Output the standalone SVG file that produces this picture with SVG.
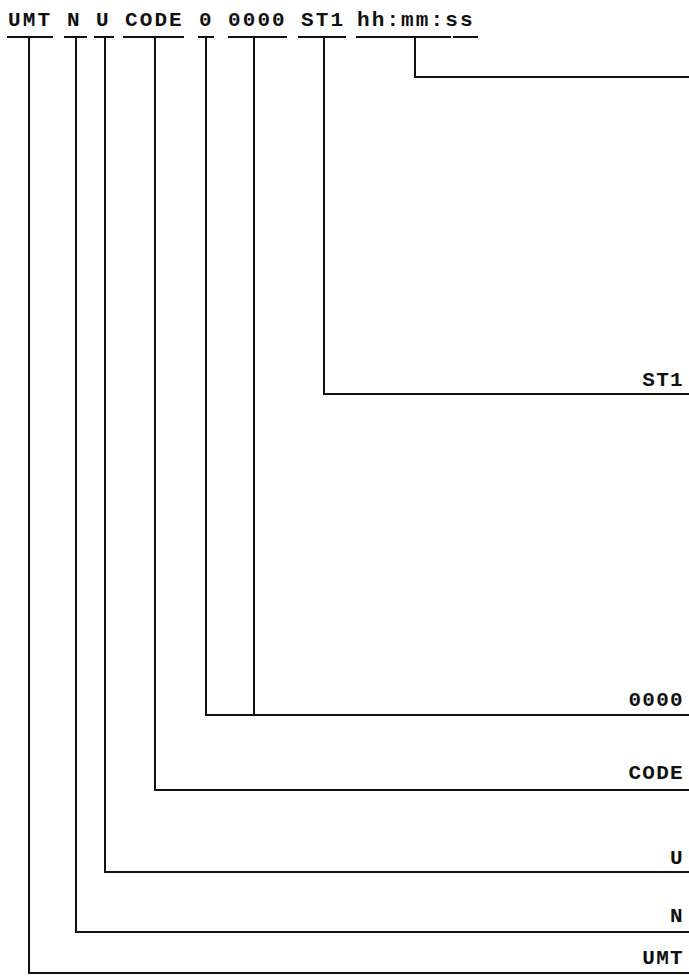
<svg xmlns="http://www.w3.org/2000/svg" width="689" height="979" viewBox="0 0 689 979">
<style>
.t{font-family:"Liberation Mono","DejaVu Sans Mono",monospace;font-weight:bold;font-size:21px;fill:#111;letter-spacing:2.1px}
.r{font-family:"Liberation Mono","DejaVu Sans Mono",monospace;font-weight:bold;font-size:21px;fill:#111;letter-spacing:1.3px;text-anchor:end}
.l{stroke:#111;stroke-width:2;fill:none;stroke-linecap:square}
</style>
<rect width="689" height="979" fill="#fff"/>
<g id="UMT"><text class="t" x="8" y="26">UMT</text><line class="l" x1="8" y1="37" x2="52" y2="37"/><text class="r" x="684" y="964">UMT</text></g>
<g id="N"><text class="t" x="67" y="26">N</text><line class="l" x1="65" y1="37" x2="86" y2="37"/><text class="r" x="684" y="922">N</text></g>
<g id="U"><text class="t" x="96" y="26">U</text><line class="l" x1="95" y1="37" x2="113" y2="37"/><text class="r" x="684" y="864">U</text></g>
<g id="CODE"><text class="t" x="125" y="26">CODE</text><line class="l" x1="124" y1="37" x2="183" y2="37"/><text class="r" x="684" y="779">CODE</text></g>
<g id="ZERO"><text class="t" x="199" y="26">0</text><line class="l" x1="199" y1="37" x2="213" y2="37"/></g>
<g id="ZEROS"><text class="t" x="228" y="26">0000</text><line class="l" x1="229" y1="37" x2="286" y2="37"/><text class="r" x="684" y="706">0000</text></g>
<g id="ST1"><text class="t" x="301" y="26">ST1</text><line class="l" x1="299" y1="37" x2="345" y2="37"/><text class="r" x="684" y="386">ST1</text></g>
<g id="TIME"><text class="t" x="357" y="26">hh:mm:ss</text><line class="l" x1="357" y1="37" x2="450" y2="37"/><line class="l" x1="454" y1="37" x2="477" y2="37"/></g>
<g id="connectors">
<polyline class="l" points="29,37 29,973 689,973"/>
<polyline class="l" points="76,37 76,932 689,932"/>
<polyline class="l" points="105,37 105,872 689,872"/>
<polyline class="l" points="155,37 155,790 689,790"/>
<polyline class="l" points="206,37 206,715 689,715"/>
<line class="l" x1="254" y1="37" x2="254" y2="715"/>
<polyline class="l" points="324,37 324,394 689,394"/>
<polyline class="l" points="415,37 415,77 689,77"/>
</g>
</svg>
